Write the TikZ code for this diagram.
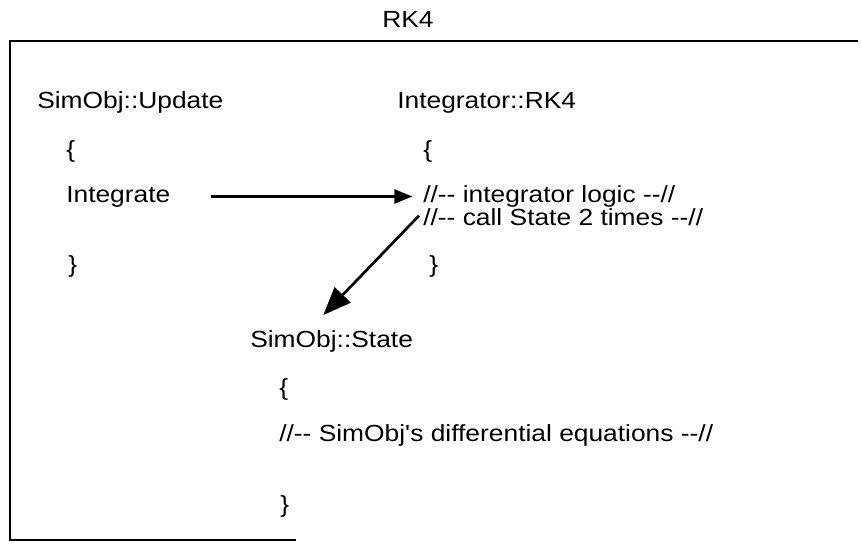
\documentclass[tikz,border=0pt]{standalone}
\usepackage{fontspec}
\newfontfamily\cf{Liberation Sans}[FakeStretch=1.13]
\usetikzlibrary{arrows.meta}
\begin{document}
\begin{tikzpicture}[x=0.75pt,y=-0.75pt,
  txt/.style={anchor=base west, inner sep=0pt, font=\cf\fontsize{17.5}{21}\selectfont},
  frame/.style={line width=2pt},
  arr/.style={line width=1.9pt, -{Triangle[length=13.5pt,width=10.5pt]}},
  bigarr/.style={line width=2pt, -{Triangle[length=21pt,width=16.5pt]}}]
\useasboundingbox (0,0) rectangle (861,550);
% title and frame
\node[txt, anchor=base] (title) at (408,27) {RK4};
\draw[frame] (296,540) -- (10,540) -- (10,41) -- (858,41);
% SimObj::Update
\node[txt] (upd)   at (37,108)    {SimObj::Update};
\node[txt] (updo)  at (66,157)    {\{};
\node[txt] (integ) at (66,202.5)  {Integrate};
\node[txt] (updc)  at (68,272)    {\}};
% Integrator::RK4
\node[txt] (rk)    at (397,108)   {Integrator::RK4};
\node[txt] (rko)   at (423,157)   {\{};
\node[txt] (logic) at (423,202.5) {//-- integrator logic --//};
\node[txt] (call)  at (423,225)   {//-- call State 2 times --//};
\node[txt] (rkc)   at (429,272)   {\}};
% SimObj::State
\node[txt] (st)    at (250,347)   {SimObj::State};
\node[txt] (sto)   at (279,395)   {\{};
\node[txt] (deq)   at (279,441)   {//-- SimObj's differential equations --//};
\node[txt] (stc)   at (280,512)   {\}};
% connectors
\draw[arr] ([xshift=30pt,yshift=4.5pt]integ.base east) -- ([xshift=-8pt,yshift=4.5pt]logic.base west);
\draw[bigarr] ([xshift=-3pt,yshift=7pt]call.base west) -- ([xshift=55pt,yshift=24pt]st.base west);
\end{tikzpicture}
\end{document}
